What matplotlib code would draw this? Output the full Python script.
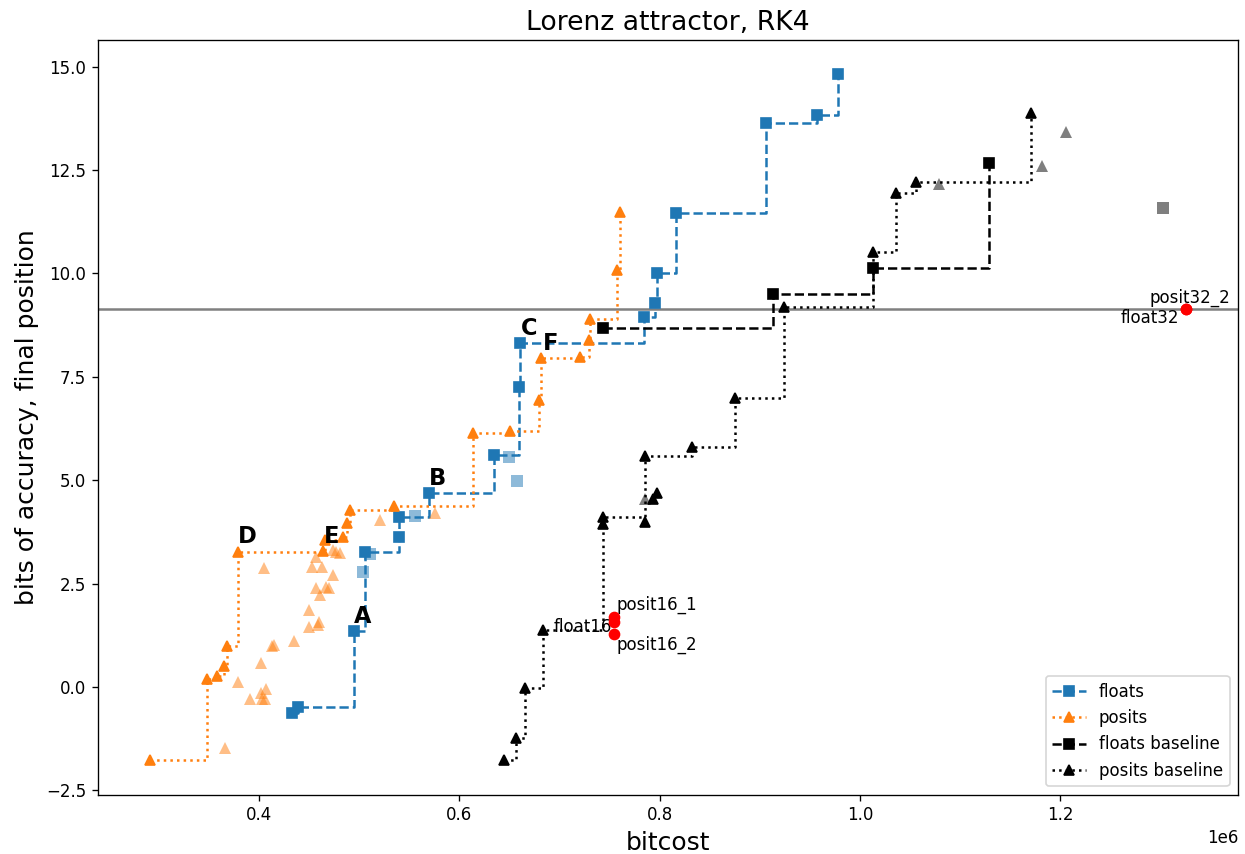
import matplotlib
matplotlib.use("Agg")
import matplotlib.pyplot as plt
import numpy as np

SCALE = 1e6

# Pareto front, floats
floats_x = [0.4334, 0.4390, 0.4946, 0.5056, 0.5398, 0.5398, 0.5695, 0.6346, 0.6593, 0.6610,
            0.7840, 0.7950, 0.7973, 0.8167, 0.9058, 0.9570, 0.9780]
floats_y = [-0.636, -0.476, 1.354, 3.271, 3.634, 4.118, 4.683, 5.609, 7.261, 8.310,
            8.958, 9.284, 10.002, 11.453, 13.629, 13.830, 14.820]
# dominated floats
floats_other_x = [0.5039, 0.5106, 0.5555, 0.6496, 0.6580]
floats_other_y = [2.788, 3.228, 4.134, 5.568, 4.988]

# Pareto front, posits
posits_x = [0.2910, 0.3476, 0.3582, 0.3652, 0.3679, 0.3791, 0.4640, 0.4661, 0.4839, 0.4874,
            0.4913, 0.5345, 0.6137, 0.6503, 0.6795, 0.6819, 0.7202, 0.7294, 0.7308, 0.7574, 0.7601]
posits_y = [-1.765, 0.186, 0.273, 0.515, 0.999, 3.271, 3.280, 3.554, 3.627, 3.958,
            4.280, 4.376, 6.153, 6.197, 6.939, 7.947, 7.971, 8.390, 8.890, 10.082, 11.492]
# dominated posits
posits_other_x = [0.4051, 0.4534, 0.4624, 0.4740, 0.4574, 0.4664, 0.4700, 0.4614, 0.4497, 0.4600,
                  0.4497, 0.4594, 0.4350, 0.4148, 0.4125, 0.4025, 0.3791, 0.3908, 0.4018, 0.4068,
                  0.4058, 0.4035, 0.3663, 0.5206, 0.5754, 0.4740, 0.4773, 0.4806, 0.4574]
posits_other_y = [2.870, 2.909, 2.909, 2.708, 2.386, 2.411, 2.386, 2.224, 1.862, 1.579,
                  1.443, 1.499, 1.112, 1.015, 0.991, 0.573, 0.128, -0.290, -0.138, -0.056,
                  -0.290, -0.290, -1.468, 4.038, 4.200, 3.312, 3.271, 3.233, 3.150]

# baselines
fbase_x = [0.7431, 0.9128, 1.0129, 1.1286]
fbase_y = [8.692, 9.502, 10.138, 12.662]
fbase_other_x = [1.3023]
fbase_other_y = [11.574]

pbase_x = [0.6443, 0.6563, 0.6660, 0.6835, 0.7434, 0.7434, 0.7857, 0.8319, 0.8749, 0.9240,
           1.0129, 1.0355, 1.0555, 1.1710]
pbase_y = [-1.776, -1.226, -0.031, 1.378, 3.941, 4.118, 5.585, 5.795, 6.987, 9.195,
           10.510, 11.937, 12.217, 13.871]
pbase_dark_x = [0.7857, 0.7933, 0.7973]
pbase_dark_y = [3.997, 4.545, 4.698]
pbase_other_x = [0.7857, 1.0788, 1.1820, 1.2059]
pbase_other_y = [4.545, 12.162, 12.597, 13.426]

# reference IEEE / posit points
ref_names = ["posit16_1", "float16", "posit16_2", "posit32_2", "float32"]
ref_x = [0.7546, 0.7546, 0.7546, 1.3256, 1.3256]
ref_y = [1.705, 1.579, 1.274, 9.132, 9.132]
float32_acc = 9.132

# lettered points: (series, index)
letters = ["A", "B", "C", "D", "E", "F"]
letter_src = [("f", 2), ("f", 6), ("f", 9), ("p", 5), ("p", 6), ("p", 15)]


def s(v):
    return np.asarray(v) * SCALE


fig, ax = plt.subplots(figsize=(1245 / 120, 854 / 120), dpi=120)
fig.subplots_adjust(left=0.0787, right=0.9944, bottom=0.0693, top=0.9535)

ax.axhline(float32_acc, color="gray", lw=1.5, zorder=1)

faded = dict(ls="none", alpha=0.5, mew=0, ms=7)

ax.plot(s(floats_x), floats_y, ls="--", marker="s", color="C0", drawstyle="steps-post", label="floats")
ax.plot(s(floats_other_x), floats_other_y, marker="s", color="C0", **faded)
ax.plot(s(posits_x), posits_y, ls=":", marker="^", color="C1", drawstyle="steps-post", label="posits")
ax.plot(s(posits_other_x), posits_other_y, marker="^", color="C1", **faded)
ax.plot(s(fbase_x), fbase_y, ls="--", marker="s", color="k", drawstyle="steps-post", label="floats baseline")
ax.plot(s(fbase_other_x), fbase_other_y, marker="s", color="k", **faded)
ax.plot(s(pbase_x), pbase_y, ls=":", marker="^", color="k", drawstyle="steps-post", label="posits baseline")
ax.plot(s(pbase_dark_x), pbase_dark_y, ls="none", marker="^", color="k")
ax.plot(s(pbase_other_x), pbase_other_y, marker="^", color="k", **faded)

ax.plot(s(ref_x), ref_y, ls="none", marker="o", color="red", zorder=5)

ref_offsets = {
    "posit16_1": ((1.2, 6.9), "left"),
    "float16": ((-1.5, -3.2), "right"),
    "posit16_2": ((1.2, -6.4), "left"),
    "posit32_2": ((2.4, 6.8), "center"),
    "float32": ((-4.0, -5.5), "right"),
}
for name, x, y in zip(ref_names, ref_x, ref_y):
    off, ha = ref_offsets[name]
    ax.annotate(name, (x * SCALE, y), xytext=off, textcoords="offset points",
                ha=ha, va="center", fontsize=10)

for lab, (ser, i) in zip(letters, letter_src):
    if ser == "f":
        px, py = floats_x[i], floats_y[i]
    else:
        px, py = posits_x[i], posits_y[i]
    ax.annotate(lab, (px * SCALE, py), xytext=(5.4, 9.0), textcoords="offset points",
                ha="center", va="center", fontsize=13.5, fontweight="bold")

ax.set_title("Lorenz attractor, RK4", fontsize=16)
ax.set_xlabel("bitcost", fontsize=15)
ax.set_ylabel("bits of accuracy, final position", fontsize=15)
ax.legend(loc="lower right")

fig.savefig("out.png", dpi=120)
